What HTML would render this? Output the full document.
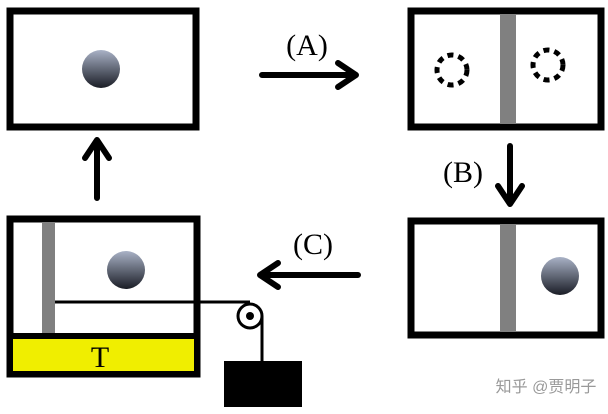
<!DOCTYPE html>
<html><head><meta charset="utf-8"><style>body{margin:0;background:#fff}svg{display:block}</style></head>
<body>
<svg width="608" height="414" viewBox="0 0 608 414" xmlns="http://www.w3.org/2000/svg">
<defs>
<linearGradient id="ball" x1="0" y1="0" x2="0" y2="1"><stop offset="0" stop-color="#a9b2c6"/><stop offset="1" stop-color="#1a1d26"/></linearGradient>
</defs>
<g>
<rect x="10" y="11" width="186" height="116" fill="#fff" stroke="#000" stroke-width="7"/>
<circle cx="101" cy="69" r="19" fill="url(#ball)"/>
</g>
<g>
<rect x="411" y="11" width="190" height="116" fill="#fff" stroke="#000" stroke-width="7"/>
<rect x="500" y="14" width="16" height="110" fill="#808080"/>
<circle cx="452" cy="70" r="15" fill="none" stroke="#000" stroke-width="5" stroke-dasharray="6 5"/>
<circle cx="548" cy="65" r="15" fill="none" stroke="#000" stroke-width="5" stroke-dasharray="6 5"/>
</g>
<g>
<rect x="411" y="221" width="190" height="114" fill="#fff" stroke="#000" stroke-width="7"/>
<rect x="500" y="224" width="16" height="108" fill="#808080"/>
<circle cx="560" cy="276" r="19" fill="url(#ball)"/>
</g>
<g>
<rect x="10" y="219" width="187" height="155" fill="#fff" stroke="#000" stroke-width="7"/>
<rect x="13" y="338" width="181" height="33" fill="#f0ee00"/>
<line x1="10" y1="336" x2="197" y2="336" stroke="#000" stroke-width="6"/>
<text x="100" y="367" font-family="Liberation Serif, serif" font-size="30" text-anchor="middle">T</text>
<rect x="42" y="222" width="13" height="111" fill="#808080"/>
<circle cx="126" cy="270" r="19" fill="url(#ball)"/>
<line x1="55" y1="302" x2="250" y2="302" stroke="#000" stroke-width="3"/>
<circle cx="250" cy="316" r="12" fill="#fff" stroke="#000" stroke-width="3"/>
<circle cx="250" cy="316" r="4" fill="#000"/>
<line x1="262" y1="316" x2="262" y2="362" stroke="#000" stroke-width="3"/>
<rect x="224" y="361" width="78" height="46" fill="#000"/>
</g>
<g stroke="#000" stroke-width="6" fill="none" stroke-linecap="round" stroke-linejoin="round">
<path d="M262 75 H354 M338 63 L356 75 L338 87"/>
<path d="M510 146 V202 M498 186 L510 204 L522 186"/>
<path d="M358 275 H262 M278 263 L260 275 L278 287"/>
<path d="M97 198 V142 M85 158 L97 140 L109 158"/>
</g>
<g font-family="Liberation Serif, serif" font-size="30" text-anchor="middle">
<text x="307" y="55">(A)</text>
<text x="463" y="182">(B)</text>
<text x="313" y="254">(C)</text>
</g>
<text x="546" y="392" font-family="Liberation Sans, Noto Sans CJK SC, sans-serif" font-size="16" fill="#999" text-anchor="middle">知乎 @贾明子</text>
</svg>
</body></html>
